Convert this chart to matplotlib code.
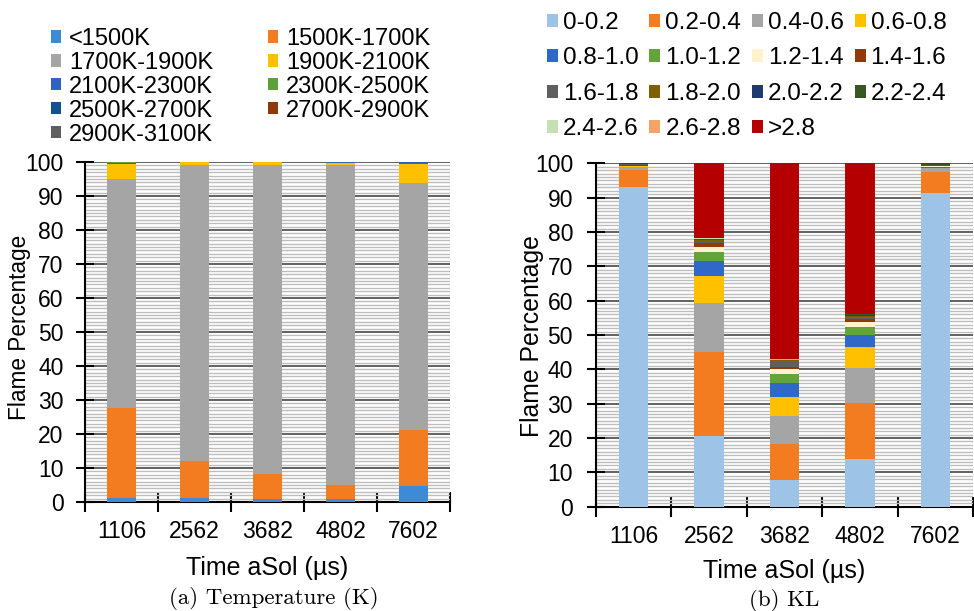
import numpy as np
import matplotlib
matplotlib.use("Agg")
import matplotlib.pyplot as plt
from matplotlib.ticker import MultipleLocator, FixedLocator, NullFormatter, FixedFormatter

plt.rcParams['font.family'] = ['Liberation Sans', 'DejaVu Sans']

# ---------------- data ----------------
categories = ['1106', '2562', '3682', '4802', '7602']

temp_labels = ['<1500K', '1500K-1700K', '1700K-1900K', '1900K-2100K', '2100K-2300K',
               '2300K-2500K', '2500K-2700K', '2700K-2900K', '2900K-3100K']
t_lt1500 = [1.2, 1.2, 1.0, 1.0, 4.6]
t_1500_1700 = [26.4, 10.8, 7.2, 3.9, 16.5]
t_1700_1900 = [67.4, 87.0, 90.8, 94.1, 72.8]
t_1900_2100 = [4.5, 1.0, 1.0, 0.8, 5.6]
t_2100_2300 = [0.3, 0.0, 0.0, 0.1, 0.5]
t_2300_2500 = [0.2, 0.0, 0.0, 0.1, 0.0]
t_2500_2700 = [0.0, 0.0, 0.0, 0.0, 0.0]
t_2700_2900 = [0.0, 0.0, 0.0, 0.0, 0.0]
t_2900_3100 = [0.0, 0.0, 0.0, 0.0, 0.0]
temp_series = [t_lt1500, t_1500_1700, t_1700_1900, t_1900_2100, t_2100_2300,
               t_2300_2500, t_2500_2700, t_2700_2900, t_2900_3100]
temp_colors = ['#3D8BD6', '#F47C20', '#A5A5A5', '#FFC000', '#2E62C4',
               '#5EA13A', '#13508F', '#8E3A0B', '#606060']

kl_labels = ['0-0.2', '0.2-0.4', '0.4-0.6', '0.6-0.8', '0.8-1.0', '1.0-1.2', '1.2-1.4',
             '1.4-1.6', '1.6-1.8', '1.8-2.0', '2.0-2.2', '2.2-2.4', '2.4-2.6', '2.6-2.8', '>2.8']
kl_00_02 = [93.0, 20.7, 7.8, 13.8, 91.4]
kl_02_04 = [5.0, 24.3, 10.4, 16.3, 6.2]
kl_04_06 = [0.8, 14.4, 8.2, 10.2, 0.9]
kl_06_08 = [0.4, 7.9, 5.5, 6.2, 0.2]
kl_08_10 = [0.0, 4.2, 4.0, 3.6, 0.1]
kl_10_12 = [0.1, 2.8, 2.7, 2.3, 0.2]
kl_12_14 = [0.0, 1.4, 1.4, 1.5, 0.1]
kl_14_16 = [0.3, 1.0, 0.8, 0.8, 0.3]
kl_16_18 = [0.1, 0.5, 1.6, 0.4, 0.1]
kl_18_20 = [0.1, 0.5, 0.2, 0.3, 0.1]
kl_20_22 = [0.0, 0.1, 0.1, 0.4, 0.0]
kl_22_24 = [0.0, 0.3, 0.1, 0.2, 0.1]
kl_24_26 = [0.0, 0.1, 0.0, 0.1, 0.0]
kl_26_28 = [0.0, 0.1, 0.3, 0.1, 0.0]
kl_gt28 = [0.2, 21.7, 56.9, 43.8, 0.3]
kl_series = [kl_00_02, kl_02_04, kl_04_06, kl_06_08, kl_08_10, kl_10_12, kl_12_14,
             kl_14_16, kl_16_18, kl_18_20, kl_20_22, kl_22_24, kl_24_26, kl_26_28, kl_gt28]
kl_colors = ['#9DC3E6', '#F47C20', '#A5A5A5', '#FFC000', '#2F68C6', '#62A33C', '#FFF2CC',
             '#8E3A0B', '#5F5F5F', '#7F6000', '#1F3A73', '#385723', '#C5E0B4', '#F4A468', '#B40000']

# ---------------- figure ----------------
W, H = 974, 611
fig = plt.figure(figsize=(W / 100, H / 100), dpi=100)
axL = fig.add_axes([85 / W, 1 - 502 / H, 365 / W, 340 / H])
axR = fig.add_axes([596 / W, 1 - 506.7 / H, 377 / W, 343.4 / H])


def stack(ax, series, colors, labels):
    x = np.arange(len(categories))
    bottom = np.zeros(len(categories))
    handles = []
    for vals, c, lab in zip(series, colors, labels):
        v = np.array(vals, dtype=float)
        h = ax.bar(x, v, width=0.39, bottom=bottom, color=c, label=lab, zorder=3, linewidth=0)
        handles.append(h)
        bottom += v
    return handles


def style(ax, ylab_size, ytick_pad, xlabelpad):
    ax.set_xlim(-0.5, len(categories) - 0.5)
    ax.set_ylim(0, 100)
    for s in ['top', 'right']:
        ax.spines[s].set_visible(False)
    for s in ['left', 'bottom']:
        ax.spines[s].set_linewidth(1.5)
        ax.spines[s].set_color('black')
    ax.yaxis.set_major_locator(MultipleLocator(10))
    ax.yaxis.set_minor_locator(MultipleLocator(1))
    ax.grid(which='major', axis='y', color='#555555', linewidth=1.3, zorder=0)
    ax.grid(which='minor', axis='y', color='#bdbdbd', linewidth=1.0, zorder=0)
    ax.set_axisbelow(True)
    ax.tick_params(axis='y', which='major', direction='inout', length=13, width=1.5,
                   labelsize=16.5, pad=ytick_pad)
    ax.tick_params(axis='y', which='minor', length=0)
    # x ticks: marks at category boundaries, labels at centres
    ax.xaxis.set_major_locator(FixedLocator(np.arange(len(categories) + 1) - 0.5))
    ax.xaxis.set_major_formatter(NullFormatter())
    ax.xaxis.set_minor_locator(FixedLocator(np.arange(len(categories))))
    ax.xaxis.set_minor_formatter(FixedFormatter(categories))
    ax.tick_params(axis='x', which='major', direction='inout', length=14, width=1.5)
    ax.tick_params(axis='x', which='minor', length=0, labelsize=16.5, pad=13)
    ax.set_xlabel('Time aSol (µs)', fontsize=18, labelpad=xlabelpad)
    ax.set_ylabel('Flame Percentage', fontsize=ylab_size)


hL = stack(axL, temp_series, temp_colors, temp_labels)
hR = stack(axR, kl_series, kl_colors, kl_labels)
style(axL, 16.3, 9, 9.5)
style(axR, 17.8, 10, 8)
axL.yaxis.set_label_coords((31 - 85) / 365, 0.515)
axR.yaxis.set_label_coords((544 - 596) / 377, 0.497)

# legends
ordL = [0, 2, 4, 6, 8, 1, 3, 5, 7]
fig.legend([hL[i] for i in ordL], [temp_labels[i] for i in ordL], ncol=2,
           loc='upper left', bbox_to_anchor=(51 / W, 1 - 28 / H), frameon=False,
           fontsize=17, handlelength=0.42, handleheight=0.42, handletextpad=0.35,
           labelspacing=0.08, columnspacing=2.3, borderpad=0, borderaxespad=0)
ordR = [0, 4, 8, 12, 1, 5, 9, 13, 2, 6, 10, 14, 3, 7, 11]
fig.legend([hR[i] for i in ordR], [kl_labels[i] for i in ordR], ncol=4,
           loc='upper left', bbox_to_anchor=(547 / W, 1 - 12 / H), frameon=False,
           fontsize=17.5, handlelength=0.45, handleheight=0.45, handletextpad=0.2,
           labelspacing=0.55, columnspacing=0.45, borderpad=0, borderaxespad=0)

# captions
fig.text(274 / W, 1 - 599 / H, '(a) Temperature (K)', family='cmr10', fontsize=16.5,
         ha='center', va='center')
fig.text(784 / W, 1 - 600 / H, '(b) KL', family='cmr10', fontsize=16.5,
         ha='center', va='center')

fig.savefig('out.png', dpi=100)
